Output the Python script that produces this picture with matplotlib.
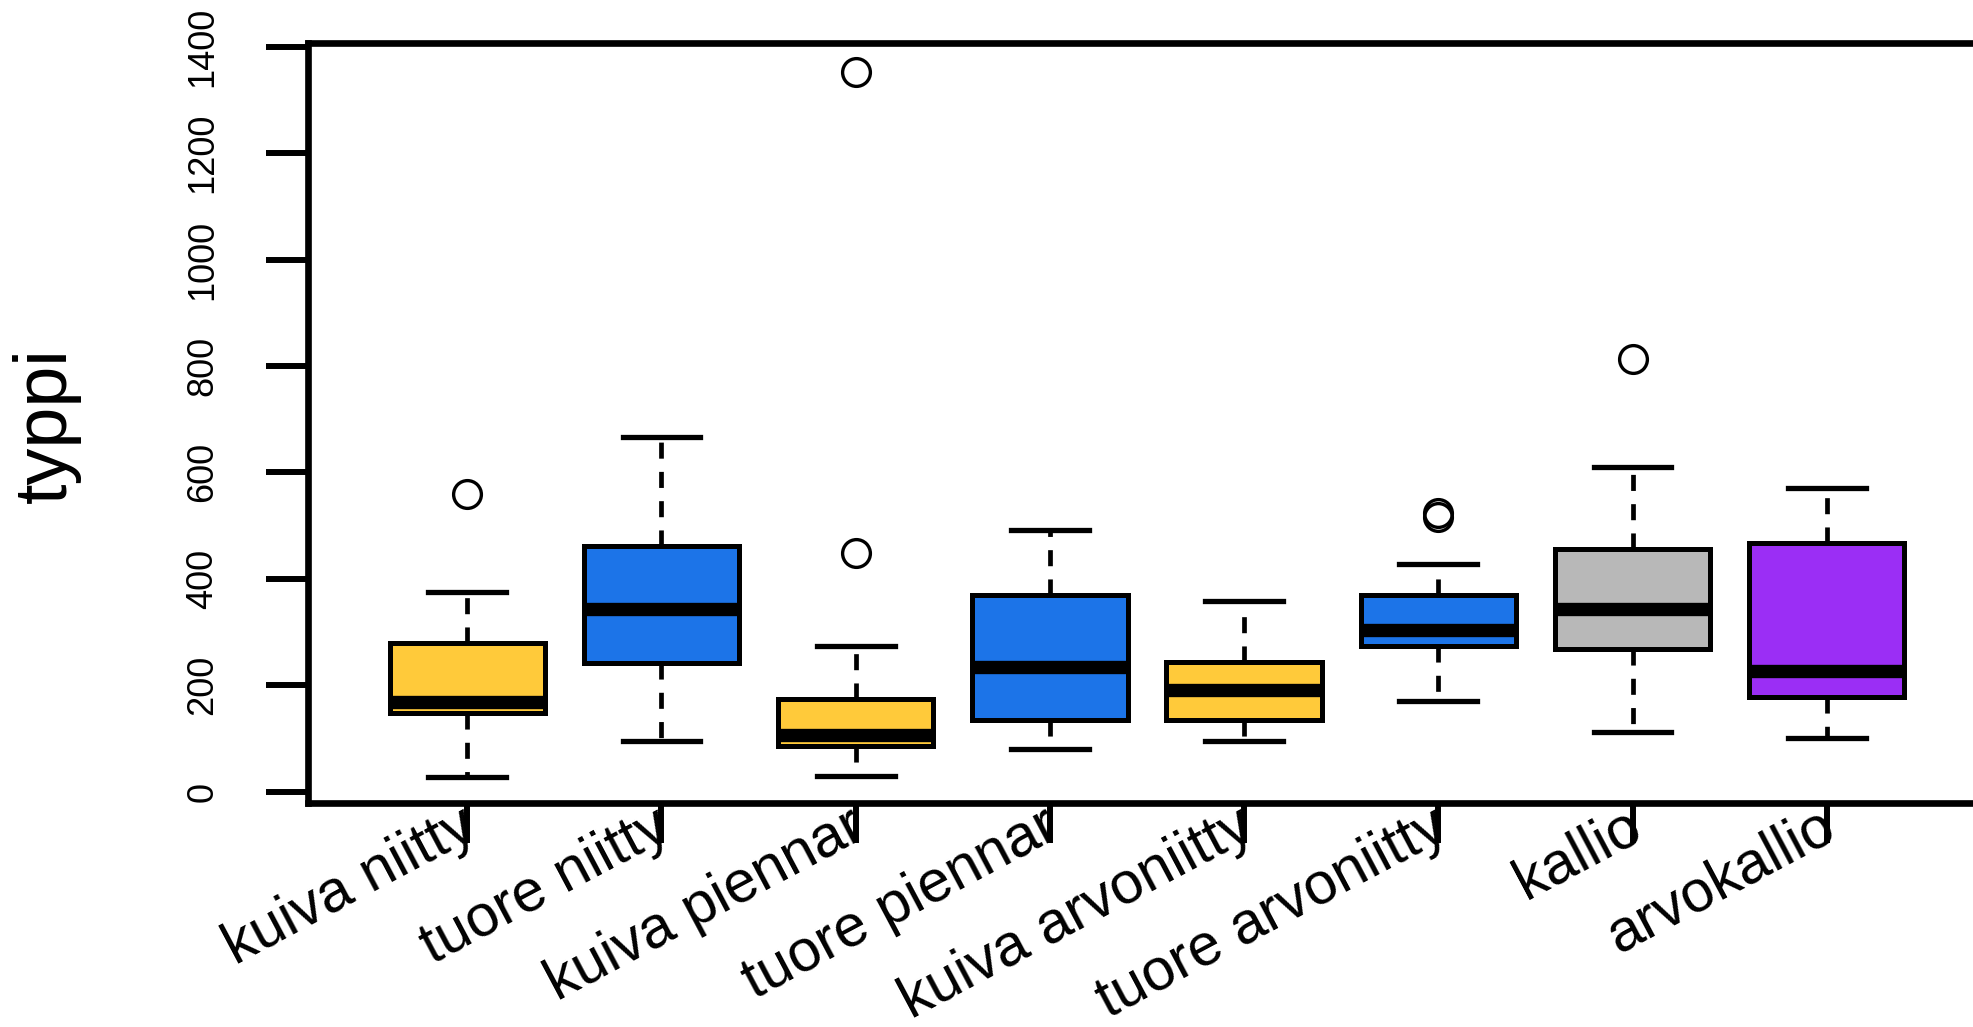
import matplotlib
matplotlib.use("Agg")
import matplotlib.pyplot as plt
import matplotlib.transforms as mtransforms

# ---- data ----
categories = ["kuiva niitty", "tuore niitty", "kuiva piennar", "tuore piennar",
              "kuiva arvoniitty", "tuore arvoniitty", "kallio", "arvokallio"]
whislo = [27, 95, 29, 80, 95, 170, 113, 101]
q1     = [148, 242, 85, 135, 135, 274, 268, 178]
med    = [168, 343, 106, 235, 192, 304, 343, 227]
q3     = [279, 462, 174, 370, 244, 370, 456, 467]
whishi = [376, 667, 274, 492, 358, 427, 610, 570]
fliers = [[559], [], [449, 1353], [], [], [516, 524], [814], []]
box_colors = ["#FFCA3A", "#1C74E8", "#FFCA3A", "#1C74E8",
              "#FFCA3A", "#1C74E8", "#B8B8B8", "#9B2EF5"]
yticks = [0, 200, 400, 600, 800, 1000, 1200, 1400]
ylabel = "typpi"

plt.rcParams['font.family'] = ['Liberation Sans', 'DejaVu Sans']

W, H = 1973, 1027
fig = plt.figure(figsize=(W / 100, H / 100), dpi=100)
left, right, top, bottom = 308, 1986, 42.7, 803
ax = fig.add_axes([left / W, (H - bottom) / H, (right - left) / W, (bottom - top) / H])

stats = []
for i, name in enumerate(categories):
    stats.append(dict(label=name, med=med[i], q1=q1[i], q3=q3[i],
                      whislo=whislo[i], whishi=whishi[i], fliers=fliers[i]))

positions = list(range(1, len(categories) + 1))
bp = ax.bxp(stats, positions=positions, widths=0.8, patch_artist=True,
            showfliers=True,
            boxprops=dict(edgecolor="black", linewidth=3.6),
            medianprops=dict(color="black", linewidth=9.6, solid_capstyle="butt"),
            whiskerprops=dict(color="black", linewidth=3.4, linestyle=(0, (3.4, 2.8))),
            capprops=dict(color="black", linewidth=3.8),
            flierprops=dict(marker="o", markerfacecolor="none", markeredgecolor="black",
                            markersize=20, markeredgewidth=2.4))
for patch, c in zip(bp["boxes"], box_colors):
    patch.set_facecolor(c)

ax.set_xlim(0.18, 8.82)
ax.set_ylim(-21.2, 1407.5)

for s in ax.spines.values():
    s.set_linewidth(4.8)

ax.set_xticks(positions)
ax.set_xticklabels([""] * len(positions))
ax.set_yticks(yticks)
ax.set_yticklabels([str(v) for v in yticks], rotation=90, va="center")
ax.tick_params(axis="x", length=29, width=4.3, direction="out")
ax.tick_params(axis="y", length=30, width=4.3, direction="out", pad=33, labelsize=26)

trans = mtransforms.blended_transform_factory(ax.transData, ax.transAxes)
for p, name in zip(positions, categories):
    ax.text(p + 0.06, -0.044, name, transform=trans, rotation=28,
            rotation_mode="anchor", ha="right", va="baseline", fontsize=42.5,
            clip_on=False)

fig.text(46 / W, 1 - 425 / H, ylabel, rotation=90, ha="center", va="center", fontsize=53)

fig.savefig("out.png", dpi=100, facecolor="white")
